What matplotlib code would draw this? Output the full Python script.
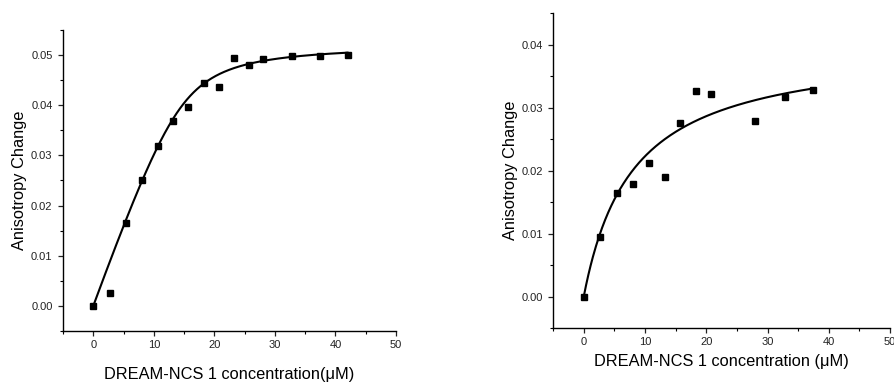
import numpy as np
import matplotlib
matplotlib.use("Agg")
import matplotlib.pyplot as plt
from matplotlib.ticker import MultipleLocator

plt.rcParams['font.family'] = ['Liberation Sans', 'DejaVu Sans']

# left panel: measured points
conc_a = [0, 2.7, 5.4, 8.0, 10.7, 13.2, 15.7, 18.3, 20.8, 23.2, 25.7, 28.1, 32.8, 37.4, 42.0]
aniso_a = [0.0, 0.0025, 0.0166, 0.0251, 0.0318, 0.0369, 0.0396, 0.0444, 0.0436,
           0.0495, 0.0481, 0.0493, 0.0499, 0.0499, 0.0501]
# tight-binding fit parameters (Bmax, protein conc, Kd)
fit_a = (0.0523, 15.0, 1.0)

# right panel: measured points
conc_b = [0, 2.7, 5.4, 8.0, 10.6, 13.2, 15.7, 18.3, 20.8, 28.0, 32.8, 37.4]
aniso_b = [0.0, 0.0094, 0.0164, 0.0179, 0.0212, 0.0190, 0.0276, 0.0326, 0.0321,
           0.0279, 0.0317, 0.0328]
# hyperbolic fit parameters (Bmax, Kd)
fit_b = (0.0401, 8.0)


def tight_binding(x, bmax, p, kd):
    s = p + x + kd
    return bmax * (s - np.sqrt(s**2 - 4 * p * x)) / (2 * p)


def hyperbola(x, bmax, kd):
    return bmax * x / (kd + x)


def style(ax, ylim, ymajor):
    for side in ['top', 'right']:
        ax.spines[side].set_visible(False)
    for side in ['left', 'bottom']:
        ax.spines[side].set_linewidth(1.0)
    ax.set_xlim(-5, 50)
    ax.set_ylim(*ylim)
    ax.xaxis.set_major_locator(MultipleLocator(10))
    ax.xaxis.set_minor_locator(MultipleLocator(5))
    ax.yaxis.set_major_locator(MultipleLocator(ymajor))
    ax.yaxis.set_minor_locator(MultipleLocator(0.005))
    ax.yaxis.set_major_formatter(plt.FormatStrFormatter('%.2f'))
    ax.tick_params(which='major', direction='out', length=3.5, width=0.9,
                   labelsize=8, colors='#222222', pad=3)
    ax.tick_params(which='minor', direction='out', length=2, width=0.8)
    ax.tick_params(axis='y', pad=4)


fig = plt.figure(figsize=(8.95, 3.86), dpi=100)

ax1 = fig.add_axes([0.0704, 0.1425, 0.372, 0.780])
xa = np.linspace(0, max(conc_a), 300)
ax1.plot(xa, tight_binding(xa, *fit_a), color='black', lw=1.5)
ax1.plot(conc_a, aniso_a, 's', color='black', ms=4.7)
style(ax1, (-0.005, 0.055), 0.01)
ax1.set_xlabel('DREAM-NCS 1 concentration(μM)', fontsize=11.8, labelpad=12)
ax1.set_ylabel('Anisotropy Change', fontsize=11.8, labelpad=3)

ax2 = fig.add_axes([0.618, 0.150, 0.3765, 0.816])
xb = np.linspace(0, max(conc_b), 300)
ax2.plot(xb, hyperbola(xb, *fit_b), color='black', lw=1.5)
ax2.plot(conc_b, aniso_b, 's', color='black', ms=4.7)
style(ax2, (-0.005, 0.045), 0.01)
ax2.set_xlabel('DREAM-NCS 1 concentration (μM)', fontsize=11.8, labelpad=5)
ax2.set_ylabel('Anisotropy Change', fontsize=11.8, labelpad=2)

fig.savefig('out.png', dpi=100)
